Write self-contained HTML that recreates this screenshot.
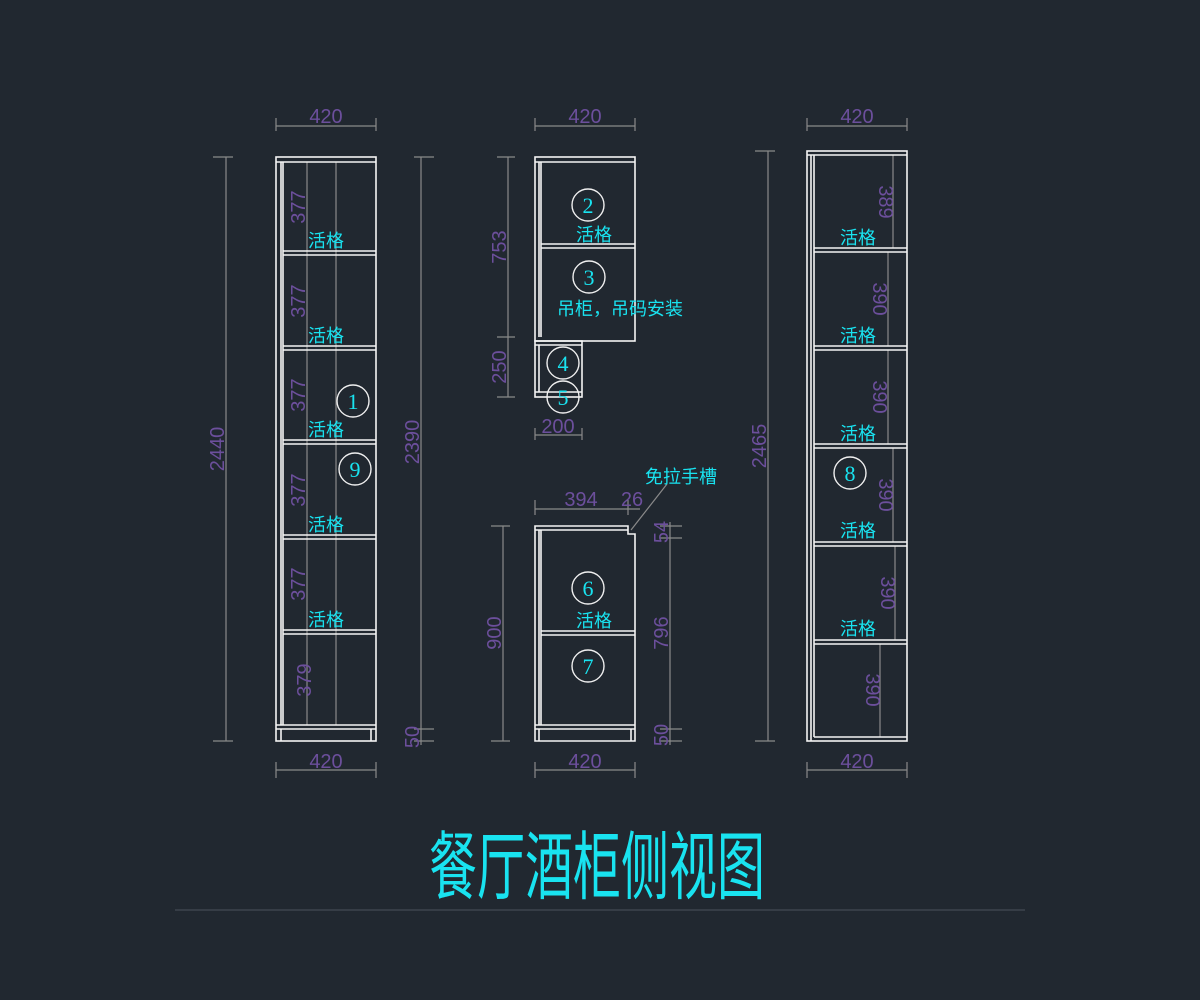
<!DOCTYPE html>
<html><head><meta charset="utf-8"><style>
html,body{margin:0;padding:0;background:#212830;}
svg{display:block}
.w{stroke:#f4f4f4;stroke-width:1.6;fill:none}
.g{stroke:#8a8a8a;stroke-width:1.2;fill:none}
.d{fill:#6c4f9c;font-family:"Liberation Sans",sans-serif;font-size:20px;}
.c{fill:#19e3f0;font-family:"Liberation Sans","Noto Sans CJK SC",sans-serif;font-size:18px;}
.n{fill:#19e3f0;font-family:"Liberation Serif",serif;font-size:22px;text-anchor:middle}
.ci{stroke:#f0f0f0;stroke-width:1.4;fill:none}
</style></head><body>
<svg width="1200" height="1000" viewBox="0 0 1200 1000" xmlns="http://www.w3.org/2000/svg">
<rect width="1200" height="1000" fill="#212830"/>

<!-- ===== LEFT CABINET ===== -->
<g class="g">
<line x1="276" y1="126" x2="376" y2="126"/><line x1="276" y1="118" x2="276" y2="131"/><line x1="376" y1="118" x2="376" y2="131"/>
<line x1="276" y1="770" x2="376" y2="770"/><line x1="276" y1="762" x2="276" y2="778"/><line x1="376" y1="762" x2="376" y2="778"/>
<line x1="226" y1="157" x2="226" y2="741"/><line x1="213" y1="157" x2="233" y2="157"/><line x1="213" y1="741" x2="233" y2="741"/>
<line x1="421" y1="157" x2="421" y2="745"/><line x1="414" y1="157" x2="434" y2="157"/><line x1="414" y1="729" x2="434" y2="729"/><line x1="414" y1="741" x2="434" y2="741"/>
<line x1="307" y1="162" x2="307" y2="725"/><line x1="336" y1="162" x2="336" y2="725"/>
</g>
<g class="w">
<rect x="276" y="157" width="100" height="584"/>
<line x1="276" y1="162" x2="376" y2="162"/>
<line x1="281" y1="162" x2="281" y2="725"/><line x1="283" y1="162" x2="283" y2="725"/>
<line x1="283" y1="251" x2="376" y2="251"/><line x1="283" y1="255" x2="376" y2="255"/>
<line x1="283" y1="346" x2="376" y2="346"/><line x1="283" y1="350" x2="376" y2="350"/>
<line x1="283" y1="440" x2="376" y2="440"/><line x1="283" y1="444" x2="376" y2="444"/>
<line x1="283" y1="535" x2="376" y2="535"/><line x1="283" y1="539" x2="376" y2="539"/>
<line x1="283" y1="630" x2="376" y2="630"/><line x1="283" y1="634" x2="376" y2="634"/>
<line x1="276" y1="725" x2="376" y2="725"/><line x1="276" y1="729" x2="376" y2="729"/>
<line x1="281" y1="729" x2="281" y2="741"/><line x1="371" y1="729" x2="371" y2="741"/>
</g>
<text class="d" x="326" y="123" text-anchor="middle">420</text>
<text class="d" x="326" y="768" text-anchor="middle">420</text>
<text class="d" transform="translate(224,449) rotate(-90)" text-anchor="middle">2440</text>
<text class="d" transform="translate(419,442) rotate(-90)" text-anchor="middle">2390</text>
<text class="d" transform="translate(419,737) rotate(-90)" text-anchor="middle" font-size="16">50</text>
<g class="d">
<text transform="translate(305,207) rotate(-90)" text-anchor="middle">377</text>
<text transform="translate(305,301) rotate(-90)" text-anchor="middle">377</text>
<text transform="translate(305,395) rotate(-90)" text-anchor="middle">377</text>
<text transform="translate(305,490) rotate(-90)" text-anchor="middle">377</text>
<text transform="translate(305,584) rotate(-90)" text-anchor="middle">377</text>
<text transform="translate(311,680) rotate(-90)" text-anchor="middle">379</text>
</g>
<g class="c">
<text x="308" y="247">活格</text><text x="308" y="342">活格</text><text x="308" y="436">活格</text>
<text x="308" y="531">活格</text><text x="308" y="626">活格</text>
</g>
<circle class="ci" cx="353" cy="401" r="16"/><text class="n" x="353" y="409">1</text>
<circle class="ci" cx="355" cy="469" r="16"/><text class="n" x="355" y="477">9</text>

<!-- ===== MIDDLE TOP ===== -->
<g class="g">
<line x1="535" y1="126" x2="635" y2="126"/><line x1="535" y1="118" x2="535" y2="131"/><line x1="635" y1="118" x2="635" y2="131"/>
<line x1="508" y1="157" x2="508" y2="397"/><line x1="497" y1="157" x2="515" y2="157"/><line x1="497" y1="337" x2="515" y2="337"/><line x1="497" y1="397" x2="515" y2="397"/>
<line x1="535" y1="435" x2="582" y2="435"/><line x1="535" y1="428" x2="535" y2="440"/><line x1="582" y1="428" x2="582" y2="440"/>
</g>
<g class="w">
<rect x="535" y="157" width="100" height="184"/>
<line x1="535" y1="162" x2="635" y2="162"/>
<line x1="539" y1="162" x2="539" y2="337"/><line x1="541" y1="162" x2="541" y2="337"/>
<line x1="541" y1="244" x2="635" y2="244"/><line x1="541" y1="248" x2="635" y2="248"/>
<rect x="535" y="341" width="47" height="56"/>
<line x1="535" y1="345" x2="582" y2="345"/><line x1="539" y1="345" x2="539" y2="392"/>
<line x1="535" y1="392" x2="582" y2="392"/>
</g>
<text class="d" x="585" y="123" text-anchor="middle">420</text>
<text class="d" transform="translate(506,247) rotate(-90)" text-anchor="middle">753</text>
<text class="d" transform="translate(506,367) rotate(-90)" text-anchor="middle">250</text>
<text class="d" x="558" y="433" text-anchor="middle">200</text>
<circle class="ci" cx="588" cy="205" r="16"/><text class="n" x="588" y="213">2</text>
<circle class="ci" cx="589" cy="277" r="16"/><text class="n" x="589" y="285">3</text>
<text class="c" x="576" y="241">活格</text>
<text class="c" x="557" y="315">吊柜，吊码安装</text>
<circle class="ci" cx="563" cy="363" r="16"/><text class="n" x="563" y="371">4</text>
<circle class="ci" cx="563" cy="397" r="16"/><text class="n" x="563" y="405">5</text>

<!-- ===== MIDDLE BOTTOM ===== -->
<g class="g">
<line x1="535" y1="509" x2="640" y2="509"/><line x1="535" y1="500" x2="535" y2="515"/><line x1="628" y1="500" x2="628" y2="515"/>
<line x1="535" y1="770" x2="635" y2="770"/><line x1="535" y1="762" x2="535" y2="778"/><line x1="635" y1="762" x2="635" y2="778"/>
<line x1="503" y1="526" x2="503" y2="741"/><line x1="491" y1="526" x2="510" y2="526"/><line x1="491" y1="741" x2="510" y2="741"/>
<line x1="670" y1="522" x2="670" y2="745"/><line x1="660" y1="526" x2="682" y2="526"/><line x1="660" y1="538" x2="682" y2="538"/><line x1="660" y1="729" x2="682" y2="729"/><line x1="660" y1="741" x2="682" y2="741"/>
<line x1="631" y1="530" x2="667" y2="484"/>
</g>
<g class="w">
<path d="M535 526 H628 V534 H635 V741 H535 Z"/>
<line x1="535" y1="530" x2="628" y2="530"/>
<line x1="539" y1="530" x2="539" y2="725"/><line x1="541" y1="530" x2="541" y2="725"/>
<line x1="541" y1="631" x2="635" y2="631"/><line x1="541" y1="635" x2="635" y2="635"/>
<line x1="535" y1="725" x2="635" y2="725"/><line x1="535" y1="729" x2="635" y2="729"/>
<line x1="539" y1="729" x2="539" y2="741"/><line x1="631" y1="729" x2="631" y2="741"/>
</g>
<text class="d" x="581" y="506" text-anchor="middle">394</text>
<text class="d" x="632" y="506" text-anchor="middle">26</text>
<text class="d" x="585" y="768" text-anchor="middle">420</text>
<text class="d" transform="translate(501,633) rotate(-90)" text-anchor="middle">900</text>
<text class="d" transform="translate(668,633) rotate(-90)" text-anchor="middle">796</text>
<text class="d" transform="translate(668,532) rotate(-90)" text-anchor="middle" font-size="16">54</text>
<text class="d" transform="translate(668,735) rotate(-90)" text-anchor="middle" font-size="16">50</text>
<text class="c" x="645" y="483">免拉手槽</text>
<circle class="ci" cx="588" cy="588" r="16"/><text class="n" x="588" y="596">6</text>
<text class="c" x="576" y="627">活格</text>
<circle class="ci" cx="588" cy="666" r="16"/><text class="n" x="588" y="674">7</text>

<!-- ===== RIGHT CABINET ===== -->
<g class="g">
<line x1="807" y1="126" x2="907" y2="126"/><line x1="807" y1="118" x2="807" y2="131"/><line x1="907" y1="118" x2="907" y2="131"/>
<line x1="807" y1="770" x2="907" y2="770"/><line x1="807" y1="762" x2="807" y2="778"/><line x1="907" y1="762" x2="907" y2="778"/>
<line x1="768" y1="151" x2="768" y2="741"/><line x1="755" y1="151" x2="775" y2="151"/><line x1="755" y1="741" x2="775" y2="741"/>
<line x1="893" y1="155" x2="893" y2="248"/><line x1="888" y1="252" x2="888" y2="346"/><line x1="888" y1="350" x2="888" y2="444"/>
<line x1="893" y1="448" x2="893" y2="542"/><line x1="895" y1="546" x2="895" y2="640"/><line x1="880" y1="644" x2="880" y2="737"/>
</g>
<g class="w">
<rect x="807" y="151" width="100" height="590"/>
<line x1="807" y1="155" x2="907" y2="155"/>
<line x1="811" y1="155" x2="811" y2="741"/><line x1="814" y1="155" x2="814" y2="737"/>
<line x1="814" y1="248" x2="907" y2="248"/><line x1="814" y1="252" x2="907" y2="252"/>
<line x1="814" y1="346" x2="907" y2="346"/><line x1="814" y1="350" x2="907" y2="350"/>
<line x1="814" y1="444" x2="907" y2="444"/><line x1="814" y1="448" x2="907" y2="448"/>
<line x1="814" y1="542" x2="907" y2="542"/><line x1="814" y1="546" x2="907" y2="546"/>
<line x1="814" y1="640" x2="907" y2="640"/><line x1="814" y1="644" x2="907" y2="644"/>
<line x1="814" y1="737" x2="907" y2="737"/>
</g>
<text class="d" x="857" y="123" text-anchor="middle">420</text>
<text class="d" x="857" y="768" text-anchor="middle">420</text>
<text class="d" transform="translate(766,446) rotate(-90)" text-anchor="middle">2465</text>
<g class="d">
<text transform="translate(879,202) rotate(90)" text-anchor="middle">389</text>
<text transform="translate(873,299) rotate(90)" text-anchor="middle">390</text>
<text transform="translate(873,397) rotate(90)" text-anchor="middle">390</text>
<text transform="translate(879,495) rotate(90)" text-anchor="middle">390</text>
<text transform="translate(881,593) rotate(90)" text-anchor="middle">390</text>
<text transform="translate(866,690) rotate(90)" text-anchor="middle">390</text>
</g>
<g class="c">
<text x="840" y="244">活格</text><text x="840" y="342">活格</text><text x="840" y="440">活格</text>
<text x="840" y="537">活格</text><text x="840" y="635">活格</text>
</g>
<circle class="ci" cx="850" cy="473" r="16"/><text class="n" x="850" y="481">8</text>

<!-- Title -->
<text x="0" y="0" text-anchor="middle" transform="translate(597,893) scale(1,1.55)" style="fill:#19e3f0;font-family:'Noto Sans CJK SC','WenQuanYi Zen Hei',sans-serif;font-size:48px;">餐厅酒柜侧视图</text>
<line x1="175" y1="910" x2="1025" y2="910" stroke="#4a525c" stroke-width="1"/>
</svg>
</body></html>
